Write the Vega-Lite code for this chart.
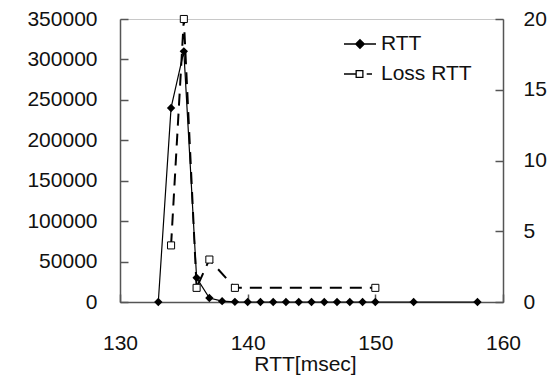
{
  "$schema": "https://vega.github.io/schema/vega-lite/v6.json",
  "width": 383,
  "height": 283,
  "autosize": "none",
  "padding": {"left": 120, "top": 19, "right": 50, "bottom": 74},
  "background": "white",
  "config": {
    "view": {"stroke": "#c8c8c8", "strokeWidth": 1},
    "axis": {
      "labelFont": "Liberation Sans",
      "labelFontSize": 21,
      "labelColor": "#111111",
      "domainColor": "#555555",
      "tickColor": "#555555",
      "domainWidth": 1.5,
      "tickWidth": 1.5,
      "tickSize": -8,
      "grid": false,
      "labelFlush": false,
      "titleFont": "Liberation Sans",
      "titleFontSize": 21,
      "titleFontWeight": "normal",
      "titleColor": "#111111"
    }
  },
  "data": {
    "values": [
      {"rtt": 133, "series": "RTT", "value": 0},
      {"rtt": 134, "series": "RTT", "value": 240000},
      {"rtt": 135, "series": "RTT", "value": 310000},
      {"rtt": 136, "series": "RTT", "value": 30000},
      {"rtt": 137, "series": "RTT", "value": 5000},
      {"rtt": 138, "series": "RTT", "value": 1000},
      {"rtt": 139, "series": "RTT", "value": 200},
      {"rtt": 140, "series": "RTT", "value": 0},
      {"rtt": 141, "series": "RTT", "value": 0},
      {"rtt": 142, "series": "RTT", "value": 0},
      {"rtt": 143, "series": "RTT", "value": 0},
      {"rtt": 144, "series": "RTT", "value": 0},
      {"rtt": 145, "series": "RTT", "value": 0},
      {"rtt": 146, "series": "RTT", "value": 0},
      {"rtt": 147, "series": "RTT", "value": 0},
      {"rtt": 148, "series": "RTT", "value": 0},
      {"rtt": 149, "series": "RTT", "value": 0},
      {"rtt": 150, "series": "RTT", "value": 0},
      {"rtt": 153, "series": "RTT", "value": 0},
      {"rtt": 158, "series": "RTT", "value": 0},
      {"rtt": 134, "series": "Loss RTT", "value": 4},
      {"rtt": 135, "series": "Loss RTT", "value": 20},
      {"rtt": 136, "series": "Loss RTT", "value": 1},
      {"rtt": 137, "series": "Loss RTT", "value": 3},
      {"rtt": 139, "series": "Loss RTT", "value": 1},
      {"rtt": 150, "series": "Loss RTT", "value": 1}
    ]
  },
  "encoding": {
    "x": {
      "field": "rtt",
      "type": "quantitative",
      "scale": {"domain": [130, 160]},
      "axis": {"values": [130, 140, 150, 160], "title": "RTT[msec]", "labelPadding": 38, "titlePadding": 0, "titleX": 185}
    }
  },
  "layer": [
    {
      "transform": [{"filter": "datum.series === 'RTT'"}],
      "encoding": {
        "y": {
          "field": "value",
          "type": "quantitative",
          "scale": {"domain": [0, 350000]},
          "axis": {"orient": "left", "values": [0, 50000, 100000, 150000, 200000, 250000, 300000, 350000], "format": "d", "title": null, "labelPadding": 31}
        }
      },
      "layer": [
        {"mark": {"type": "line", "color": "black", "strokeWidth": 1.2}},
        {"mark": {"type": "point", "shape": "diamond", "filled": true, "color": "black", "size": 70, "opacity": 1}},
        {
          "mark": {"type": "point", "filled": true, "strokeWidth": 1.3, "opacity": 0},
          "encoding": {
            "shape": {
              "field": "series",
              "type": "nominal",
              "scale": {"domain": ["RTT", "Loss RTT"], "range": ["M-1,0H1M0,-0.27L0.27,0L0,0.27L-0.27,0Z", "M-1,0H-0.24M-0.24,-0.21H0.18V0.21H-0.24ZM0.42,0H0.75"]},
              "legend": {
                "title": null,
                "orient": "none",
                "legendX": 223,
                "legendY": 8,
                "padding": 0,
                "symbolSize": 1024,
                "symbolStrokeColor": "black",
                "symbolStrokeWidth": 1.3,
                "symbolOpacity": 1,
                "labelFont": "Liberation Sans",
                "labelFontSize": 21,
                "labelColor": "#111111",
                "labelOffset": 4,
                "rowPadding": 3
              }
            },
            "fill": {
              "field": "series",
              "type": "nominal",
              "scale": {"domain": ["RTT", "Loss RTT"], "range": ["black", "white"]}
            },
            "stroke": {
              "field": "series",
              "type": "nominal",
              "scale": {"domain": ["RTT", "Loss RTT"], "range": ["black", "black"]}
            }
          }
        }
      ]
    },
    {
      "transform": [{"filter": "datum.series === 'Loss RTT'"}],
      "encoding": {
        "y": {
          "field": "value",
          "type": "quantitative",
          "scale": {"domain": [0, 20]},
          "axis": {"orient": "right", "values": [0, 5, 10, 15, 20], "title": null, "labelPadding": 28}
        }
      },
      "layer": [
        {"mark": {"type": "line", "color": "black", "strokeWidth": 2, "strokeDash": [12, 8]}},
        {"mark": {"type": "point", "shape": "square", "fill": "white", "stroke": "black", "strokeWidth": 1, "size": 50, "opacity": 1}}
      ]
    }
  ],
  "resolve": {"scale": {"y": "independent"}}
}
